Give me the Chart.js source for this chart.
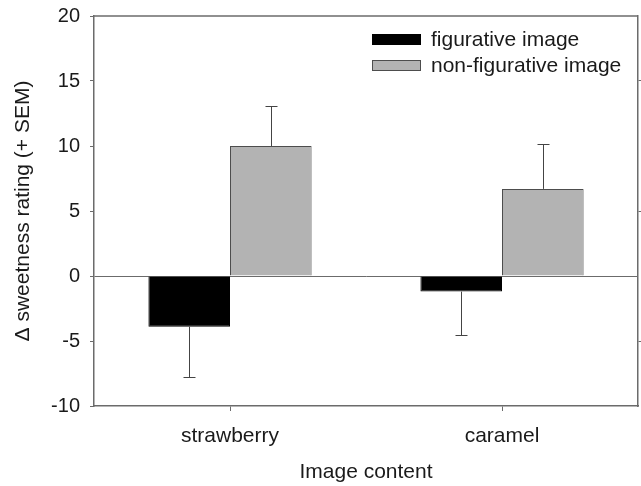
<!DOCTYPE html>
<html>
<head>
<meta charset="utf-8">
<script src="https://cdn.jsdelivr.net/npm/chart.js@4/dist/chart.umd.min.js"></script>
<style>
    html, body { margin: 0; padding: 0; background: #fff; }
    #wrap { width: 641px; height: 486px; }
</style>
</head>
<body>
<div id="wrap"><canvas id="chart" width="641" height="486"></canvas></div>
<script>
const categories = ['strawberry', 'caramel'];
const figurative = [-3.9, -1.2];
const figurativeSem = [3.9, 3.35];
const nonFigurative = [10.0, 6.7];
const nonFigurativeSem = [3.1, 3.45];
const yTicks = [-10, -5, 0, 5, 10, 15, 20];
const legendLabels = ['figurative image', 'non-figurative image'];

const FONT = '"Liberation Sans", Arial, sans-serif';
const AXIS = '#6b6b6b';
const TEXT = '#1a1a1a';
const GREY = '#b3b3b3';

// draws the +SEM whisker away from zero, with a small cap
const errorBars = {
    id: 'errorBars',
    afterDatasetsDraw(chart) {
        const { ctx } = chart;
        const y = chart.scales.y;
        ctx.save();
        ctx.strokeStyle = '#444';
        ctx.lineWidth = 1;
        chart.data.datasets.forEach((ds, i) => {
            const meta = chart.getDatasetMeta(i);
            meta.data.forEach((bar, j) => {
                const v = ds.data[j];
                const end = v >= 0 ? v + ds.sem[j] : v - ds.sem[j];
                const x = Math.round(bar.x) + 0.5;
                const y0 = y.getPixelForValue(v);
                const y1 = Math.round(y.getPixelForValue(end)) + 0.5;
                ctx.beginPath();
                ctx.moveTo(x, y0);
                ctx.lineTo(x, y1);
                ctx.moveTo(x - 6, y1);
                ctx.lineTo(x + 6, y1);
                ctx.stroke();
            });
        });
        ctx.restore();
    },
};

// top frame line plus the boxed legend in the upper right
const frameAndLegend = {
    id: 'frameAndLegend',
    afterDraw(chart) {
        const { ctx, chartArea } = chart;
        ctx.save();
        ctx.strokeStyle = AXIS;
        ctx.lineWidth = 1.5;
        ctx.beginPath();
        ctx.moveTo(chartArea.left, chartArea.top);
        ctx.lineTo(chartArea.right, chartArea.top);
        ctx.stroke();

        ctx.font = `21px ${FONT}`;
        ctx.textBaseline = 'middle';
        chart.data.datasets.forEach((ds, i) => {
            const top = 34 + i * 26;
            ctx.fillStyle = ds.backgroundColor;
            ctx.fillRect(372, top, 49, 11);
            ctx.strokeStyle = ds.borderColor;
            ctx.lineWidth = 1;
            ctx.strokeRect(372.5, top + 0.5, 48, 10);
            ctx.fillStyle = TEXT;
            ctx.fillText(legendLabels[i], 431, top + 6);
        });
        ctx.restore();
    },
};

// keep the tick labels from pushing the plot box down
function noVerticalPadding(scale) {
    scale.paddingTop = 0;
    scale.paddingBottom = 0;
}

new Chart(document.getElementById('chart'), {
    type: 'bar',
    data: {
        labels: categories,
        datasets: [
            {
                label: legendLabels[0],
                data: figurative,
                sem: figurativeSem,
                backgroundColor: '#000000',
                borderColor: '#000000',
                borderWidth: 1,
            },
            {
                label: legendLabels[1],
                data: nonFigurative,
                sem: nonFigurativeSem,
                backgroundColor: GREY,
                borderColor: '#4d4d4d',
                borderWidth: 1,
            },
        ],
    },
    options: {
        responsive: false,
        animation: false,
        layout: { padding: { left: 0, right: 0, top: 16, bottom: 0 } },
        categoryPercentage: 0.6,
        barPercentage: 1.0,
        plugins: {
            legend: { display: false },
            tooltip: { enabled: false },
        },
        scales: {
            x: {
                offset: true,
                grid: {
                    offset: false,
                    drawOnChartArea: false,
                    tickLength: 5,
                    tickColor: AXIS,
                },
                border: { color: AXIS, width: 1.5 },
                ticks: { color: TEXT, font: { family: FONT, size: 21 }, padding: 13 },
                title: {
                    display: true,
                    text: 'Image content',
                    color: TEXT,
                    font: { family: FONT, size: 21 },
                    padding: { top: 0, bottom: 1 },
                },
                afterFit(scale) {
                    scale.height = 80;
                    scale.paddingLeft = 0;
                    scale.paddingRight = 0;
                },
            },
            y: {
                min: -10,
                max: 20,
                afterBuildTicks(scale) { scale.ticks = yTicks.map((value) => ({ value })); },
                grid: {
                    color: (c) => (c.tick && c.tick.value === 0 ? AXIS : 'transparent'),
                    tickColor: AXIS,
                    tickLength: 4,
                },
                border: { color: AXIS, width: 1.5 },
                ticks: { color: TEXT, font: { family: FONT, size: 20 }, padding: 10 },
                title: {
                    display: true,
                    text: 'Δ sweetness rating (+ SEM)',
                    color: TEXT,
                    font: { family: FONT, size: 21 },
                    padding: { top: 11, bottom: 0 },
                },
                afterFit(scale) {
                    scale.width = 94;
                    noVerticalPadding(scale);
                },
            },
            y2: {
                position: 'right',
                min: -10,
                max: 20,
                afterBuildTicks(scale) { scale.ticks = yTicks.map((value) => ({ value })); },
                grid: {
                    drawOnChartArea: false,
                    tickLength: 3,
                    tickColor: (c) => (c.tick && Math.abs(c.tick.value) % 10 === 5 ? AXIS : 'transparent'),
                },
                border: { color: AXIS, width: 1.5 },
                ticks: { display: false },
                afterFit(scale) {
                    scale.width = 3;
                    noVerticalPadding(scale);
                },
            },
        },
    },
    plugins: [errorBars, frameAndLegend],
});
</script>
</body>
</html>
